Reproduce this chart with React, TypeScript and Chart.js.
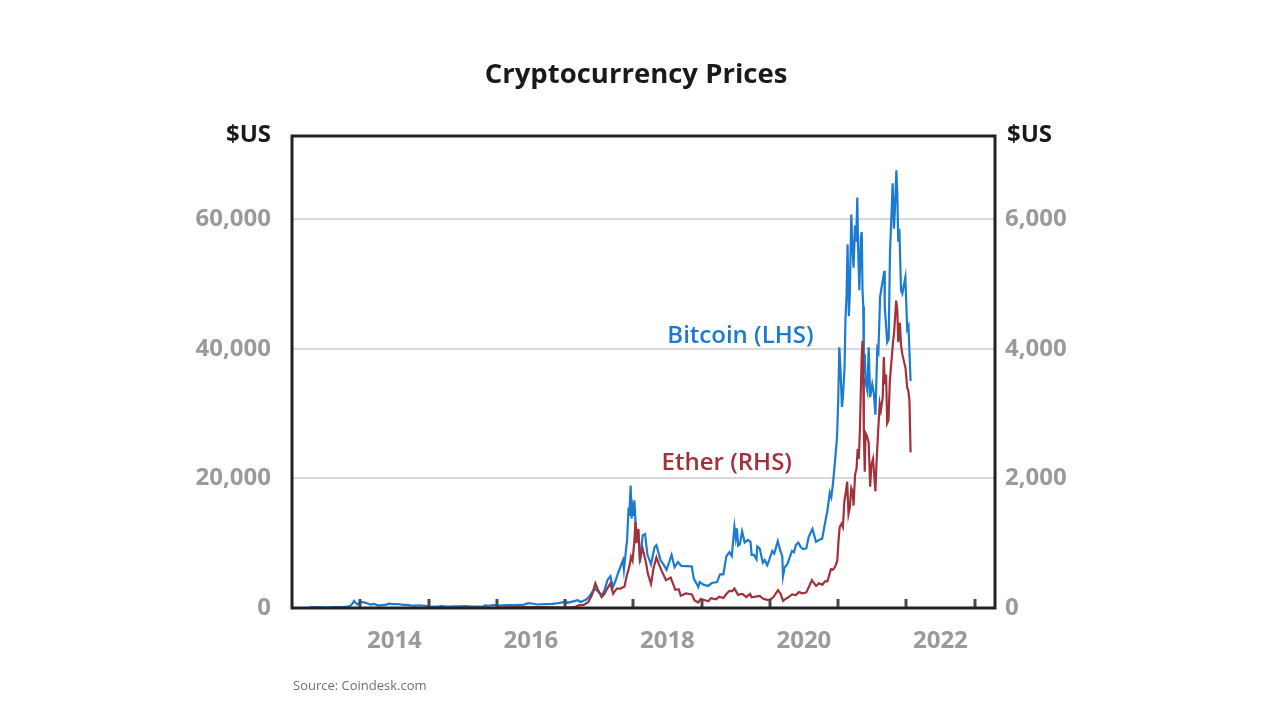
import React, { useEffect, useRef } from "react";
import { Chart, registerables } from "chart.js";

Chart.register(...registerables);

// ---------- data ----------
const btcDates: string[] = [
  "2013-04-01","2013-05-15","2013-07-05","2013-08-20","2013-10-01","2013-10-25","2013-11-12","2013-11-22","2013-11-29","2013-12-07",
  "2013-12-17","2013-12-26","2014-01-08","2014-01-25","2014-02-10","2014-02-25","2014-03-15","2014-04-10","2014-04-28","2014-05-20",
  "2014-06-03","2014-06-25","2014-07-20","2014-08-18","2014-09-10","2014-09-25","2014-10-20","2014-11-12","2014-12-10","2014-12-30",
  "2015-01-14","2015-02-01","2015-02-25","2015-03-12","2015-04-14","2015-05-20","2015-06-20","2015-07-12","2015-08-24","2015-09-20",
  "2015-10-20","2015-11-04","2015-11-12","2015-12-15","2016-01-15","2016-02-20","2016-04-15","2016-05-28","2016-06-17","2016-07-15",
  "2016-08-03","2016-09-15","2016-10-25","2016-11-25","2016-12-25","2017-01-04","2017-01-12","2017-02-20","2017-03-10","2017-03-25",
  "2017-04-25","2017-05-10","2017-05-25","2017-06-12","2017-06-28","2017-07-16","2017-08-01","2017-08-16","2017-09-01","2017-09-14",
  "2017-09-28","2017-10-12","2017-10-20","2017-11-07","2017-11-12","2017-11-20","2017-11-29","2017-12-07","2017-12-11","2017-12-18",
  "2017-12-23","2017-12-28","2018-01-02","2018-01-07","2018-01-17","2018-01-28","2018-02-06","2018-02-20","2018-03-05","2018-03-18",
  "2018-04-06","2018-04-25","2018-05-05","2018-05-28","2018-06-10","2018-06-28","2018-07-25","2018-08-10","2018-08-28","2018-09-15",
  "2018-10-15","2018-11-10","2018-11-20","2018-12-15","2018-12-22","2019-01-12","2019-02-05","2019-02-25","2019-03-25","2019-04-10",
  "2019-04-28","2019-05-14","2019-05-30","2019-06-12","2019-06-26","2019-07-03","2019-07-09","2019-07-16","2019-07-25","2019-08-06",
  "2019-08-20","2019-09-06","2019-09-20","2019-09-26","2019-10-08","2019-10-22","2019-10-26","2019-11-08","2019-11-25","2019-12-05",
  "2019-12-18","2019-12-28","2020-01-14","2020-01-25","2020-02-13","2020-02-27","2020-03-08","2020-03-12","2020-03-20","2020-04-05",
  "2020-04-29","2020-05-10","2020-05-20","2020-06-02","2020-06-15","2020-06-28","2020-07-15","2020-07-28","2020-08-17","2020-09-05",
  "2020-09-22","2020-10-08","2020-10-22","2020-11-05","2020-11-18","2020-11-26","2020-12-05","2020-12-17","2020-12-27","2021-01-02",
  "2021-01-08","2021-01-14","2021-01-22","2021-01-27","2021-02-05","2021-02-10","2021-02-16","2021-02-21","2021-02-28","2021-03-05",
  "2021-03-13","2021-03-18","2021-03-25","2021-04-02","2021-04-08","2021-04-14","2021-04-18","2021-04-25","2021-05-03","2021-05-08",
  "2021-05-12","2021-05-16","2021-05-19","2021-05-24","2021-05-29","2021-06-07","2021-06-14","2021-06-22","2021-07-03","2021-07-12",
  "2021-07-20","2021-07-30","2021-08-05","2021-08-14","2021-08-22","2021-09-06","2021-09-08","2021-09-21","2021-09-29","2021-10-06",
  "2021-10-15","2021-10-20","2021-10-27","2021-11-01","2021-11-09","2021-11-14","2021-11-19","2021-11-25","2021-12-04","2021-12-11",
  "2021-12-27","2022-01-06","2022-01-13","2022-01-20","2022-01-24",
];
const btcValues: number[] = [
  100,120,70,120,130,200,400,750,1100,800,
  550,760,950,820,700,540,620,380,440,520,
  660,590,620,480,470,400,380,420,350,310,
  180,230,250,290,220,240,245,300,220,230,
  270,420,320,460,380,440,430,530,740,660,
  540,610,650,740,900,1130,790,1060,1190,930,
  1300,1750,2400,2950,2500,1950,2750,4300,4900,3200,
  4200,5400,6000,7400,5900,8100,10500,15500,14200,18900,
  13800,15400,14200,16600,11000,11600,7000,11200,11400,8200,
  6700,9400,9700,7300,6800,5900,8200,6300,7100,6500,
  6450,6400,4600,3250,4000,3600,3400,3850,4000,5200,
  5200,8000,8600,8000,12500,10800,12300,9600,9800,11800,
  10100,10500,10200,8200,8200,7500,9500,9200,7000,7400,
  6600,7300,8800,8400,10300,8800,8000,4900,6200,6800,
  8800,8600,9700,10100,9400,9100,9200,11000,12200,10200,
  10500,10700,12900,15000,17800,17100,19200,23000,26500,32000,
  40200,37000,31000,32500,37100,44800,48500,56100,45000,48500,
  60700,56500,52500,59000,56500,63300,56000,49000,57200,58000,
  49000,46500,36100,39200,34800,33500,40200,32500,34500,33000,
  29800,40000,39500,48000,49500,52000,46500,41000,41500,55000,
  61500,65500,58500,61300,67500,64000,56500,58500,49000,48500,
  51000,43000,43500,38000,35000,
];

const ethDates: string[] = [
  "2015-08-10","2016-01-01","2016-03-15","2016-06-15","2016-09-01","2016-12-31","2017-02-20","2017-03-15","2017-04-10","2017-05-05",
  "2017-05-25","2017-06-12","2017-06-25","2017-07-16","2017-08-01","2017-08-15","2017-09-01","2017-09-15","2017-10-05","2017-10-25",
  "2017-11-15","2017-11-25","2017-12-12","2017-12-20","2017-12-28","2018-01-06","2018-01-13","2018-01-18","2018-01-28","2018-02-06",
  "2018-02-20","2018-03-10","2018-03-20","2018-04-06","2018-04-20","2018-05-05","2018-05-15","2018-06-01","2018-06-25","2018-07-20",
  "2018-08-14","2018-09-01","2018-09-12","2018-10-10","2018-11-10","2018-11-25","2018-12-14","2018-12-28","2019-01-20","2019-02-07",
  "2019-02-20","2019-03-20","2019-04-05","2019-04-28","2019-05-15","2019-05-30","2019-06-15","2019-06-26","2019-07-16","2019-07-28",
  "2019-08-10","2019-08-28","2019-09-18","2019-09-26","2019-10-25","2019-11-08","2019-11-25","2019-12-18","2020-01-01","2020-01-20",
  "2020-02-14","2020-02-28","2020-03-12","2020-03-20","2020-04-10","2020-04-30","2020-05-20","2020-06-05","2020-06-25","2020-07-15",
  "2020-07-28","2020-08-14","2020-09-05","2020-09-20","2020-10-10","2020-10-22","2020-11-05","2020-11-24","2020-12-05","2020-12-17",
  "2020-12-28","2021-01-04","2021-01-10","2021-01-20","2021-01-27","2021-02-04","2021-02-10","2021-02-19","2021-02-26","2021-03-05",
  "2021-03-13","2021-03-20","2021-03-25","2021-04-02","2021-04-10","2021-04-16","2021-04-22","2021-04-28","2021-05-03","2021-05-08",
  "2021-05-12","2021-05-16","2021-05-19","2021-05-24","2021-05-28","2021-06-05","2021-06-14","2021-06-22","2021-06-28","2021-07-07",
  "2021-07-20","2021-07-26","2021-08-05","2021-08-12","2021-08-18","2021-08-28","2021-09-03","2021-09-08","2021-09-15","2021-09-21",
  "2021-09-28","2021-10-05","2021-10-15","2021-10-22","2021-10-28","2021-11-08","2021-11-14","2021-11-19","2021-11-28","2021-12-04",
  "2021-12-12","2021-12-20","2021-12-28","2022-01-06","2022-01-12","2022-01-18","2022-01-24",
];
const ethValues: number[] = [
  1,1,12,15,12,8,13,40,48,90,
  200,380,290,170,220,300,380,220,300,300,
  330,470,650,790,730,1000,1330,1000,1220,760,
  920,700,530,370,620,780,700,580,430,470,
  280,290,190,225,210,115,85,140,120,105,
  150,135,175,155,220,265,260,300,200,215,
  215,170,215,165,180,185,145,125,130,165,
  275,220,110,130,165,210,200,245,225,240,
  320,430,340,380,360,410,410,600,590,640,
  730,1050,1250,1300,1250,1650,1750,1950,1450,1550,
  1850,1800,1580,2050,2150,2450,2300,2750,3350,3900,
  4120,3550,2750,2100,2700,2650,2550,1870,2200,2300,
  1800,2250,2800,3150,3050,3250,3870,3450,3600,2850,
  2900,3500,3850,4100,4250,4740,4600,4100,4400,4050,
  3900,3800,3700,3400,3350,3200,2400,
];

const xLabelYears: number[] = [2014, 2016, 2018, 2020, 2022];
const xMarkYears: number[] = [2014, 2015, 2016, 2017, 2018, 2019, 2020, 2021, 2022, 2023];
const leftTicks: number[] = [0, 20000, 40000, 60000];
const rightTicks: number[] = [0, 2000, 4000, 6000];

// ---------- helpers ----------
function toYear(d: string): number {
  const [y, m, day] = d.split("-").map(Number);
  const start = Date.UTC(y, 0, 1);
  const end = Date.UTC(y + 1, 0, 1);
  return y + (Date.UTC(y, m - 1, day) - start) / (end - start);
}

const FONT = "'Open Sans', 'Noto Sans', sans-serif";
const BLUE = "#1b7bd0";
const RED = "#a3303b";
const GREY = "#9a9a9a";

const overlayPlugin = {
  id: "overlay",
  afterDatasetsDraw(chart: any) {
    const { ctx, chartArea } = chart;
    const x = chart.scales.x;
    const y = chart.scales.y;
    ctx.save();
    // inner tick marks on the bottom axis
    ctx.strokeStyle = "#4a4a4a";
    ctx.lineWidth = 3;
    xMarkYears.forEach((yr) => {
      const px = Math.round(x.getPixelForValue(yr));
      ctx.beginPath();
      ctx.moveTo(px, chartArea.bottom);
      ctx.lineTo(px, chartArea.bottom - 9);
      ctx.stroke();
    });
    // frame
    ctx.strokeStyle = "#222222";
    ctx.lineWidth = 3;
    ctx.strokeRect(chartArea.left, chartArea.top, chartArea.right - chartArea.left, chartArea.bottom - chartArea.top);

    // series labels anchored in data space
    ctx.font = `600 24px ${FONT}`;
    ctx.textAlign = "center";
    ctx.textBaseline = "middle";
    ctx.fillStyle = BLUE;
    ctx.fillText("Bitcoin (LHS)", x.getPixelForValue(2019.57), y.getPixelForValue(42000));
    ctx.fillStyle = RED;
    ctx.fillText("Ether (RHS)", x.getPixelForValue(2019.37), y.getPixelForValue(22400));

    // title
    ctx.fillStyle = "#1a1a1a";
    ctx.font = `bold 27.5px ${FONT}`;
    ctx.fillText("Cryptocurrency Prices", 636, 75);

    // axis unit labels
    ctx.font = `bold 24px ${FONT}`;
    ctx.textAlign = "right";
    ctx.fillText("$US", 271, 135);
    ctx.textAlign = "left";
    ctx.fillText("$US", 1007, 135);

    // source
    ctx.font = `13px ${FONT}`;
    ctx.fillStyle = "#6f6f6f";
    ctx.textAlign = "left";
    ctx.fillText("Source: Coindesk.com", 293, 686);
    ctx.restore();
  },
};

export default function App() {
  const ref = useRef<HTMLCanvasElement | null>(null);

  useEffect(() => {
    if (!ref.current) return;
    const btcData = btcDates.map((d, i) => ({ x: toYear(d), y: btcValues[i] }));
    const ethData = ethDates.map((d, i) => ({ x: toYear(d), y: ethValues[i] }));
    const tickFont = { family: FONT, size: 24, weight: "bold" as const };

    const chart = new Chart(ref.current, {
      type: "line",
      data: {
        datasets: [
          {
            label: "Bitcoin (LHS)",
            data: btcData,
            yAxisID: "y",
            borderColor: BLUE,
            borderWidth: 2.2,
            pointRadius: 0,
            tension: 0,
            order: 1,
          },
          {
            label: "Ether (RHS)",
            data: ethData,
            yAxisID: "y1",
            borderColor: RED,
            borderWidth: 2.2,
            pointRadius: 0,
            tension: 0,
            order: 0,
          },
        ],
      },
      plugins: [overlayPlugin],
      options: {
        responsive: false,
        animation: false,
        layout: { padding: { top: 136, left: 0, right: 0, bottom: 0 } },
        plugins: {
          legend: { display: false },
          tooltip: { enabled: false },
          title: { display: false },
        },
        scales: {
          x: {
            type: "linear",
            position: "bottom",
            min: 2013.0,
            max: 2023.3,
            grid: { display: false, drawTicks: false },
            border: { display: false },
            afterBuildTicks: (s: any) => {
              s.ticks = xLabelYears.map((v) => ({ value: v + 0.5 }));
            },
            afterFit: (s: any) => {
              s.height = 112;
            },
            ticks: {
              autoSkip: false,
              maxRotation: 0,
              padding: 19,
              color: GREY,
              font: tickFont,
              callback: (v: any) => String(Math.floor(Number(v))),
            },
          },
          y: {
            type: "linear",
            position: "left",
            min: 0,
            max: 72800,
            grid: {
              drawTicks: false,
              lineWidth: 2,
              color: (c: any) => (c.tick && c.tick.value === 0 ? "rgba(0,0,0,0)" : "#d9d9d9"),
            },
            border: { display: false },
            afterBuildTicks: (s: any) => {
              s.ticks = leftTicks.map((v) => ({ value: v }));
            },
            afterFit: (s: any) => {
              s.width = 292;
            },
            ticks: {
              padding: 21,
              color: GREY,
              font: tickFont,
              callback: (v: any) => Number(v).toLocaleString("en-US"),
            },
          },
          y1: {
            type: "linear",
            position: "right",
            min: 0,
            max: 7280,
            grid: { display: false, drawTicks: false },
            border: { display: false },
            afterBuildTicks: (s: any) => {
              s.ticks = rightTicks.map((v) => ({ value: v }));
            },
            afterFit: (s: any) => {
              s.width = 285;
            },
            ticks: {
              padding: 10,
              color: GREY,
              font: tickFont,
              callback: (v: any) => Number(v).toLocaleString("en-US"),
            },
          },
        },
      },
    });
    return () => chart.destroy();
  }, []);

  return (
    <div style={{ position: "absolute", left: 0, top: 0, width: 1280, height: 720, background: "#ffffff" }}>
      <canvas ref={ref} width={1280} height={720} style={{ display: "block", width: 1280, height: 720 }} />
    </div>
  );
}
